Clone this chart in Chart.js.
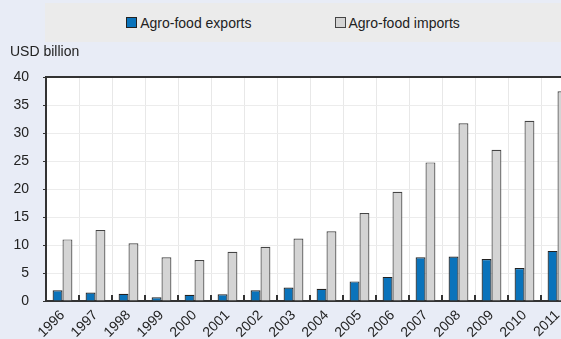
<!DOCTYPE html>
<html>
<head>
<meta charset="utf-8">
<script src="https://cdn.jsdelivr.net/npm/chart.js@4/dist/chart.umd.min.js"></script>
<style>
  html, body { margin: 0; padding: 0; background: #e8ecf6; overflow: hidden; }
  #wrap { position: relative; width: 561px; height: 339px; overflow: hidden; }
  #grafico { position: absolute; left: 0; top: 0; }
  #legenda {
    position: absolute; left: 45px; top: 3px; width: 496px; height: 39px; padding-right: 20px;
    background: #ebebeb; display: flex; justify-content: center; align-items: center; gap: 83px;
    font: 14px "Liberation Sans", Arial, sans-serif; color: #222;
  }
  #legenda span.item { display: flex; align-items: center; }
  #legenda i { display: inline-block; width: 9px; height: 9px; margin-right: 3px; box-sizing: content-box; }
</style>
</head>
<body>
<div id="wrap">
  <canvas id="grafico" width="580" height="339"></canvas>
  <div id="legenda"></div>
</div>
<script>
const anos = ["1996","1997","1998","1999","2000","2001","2002","2003","2004","2005","2006","2007","2008","2009","2010","2011"];
const exportacoes = [1.9, 1.5, 1.3, 0.65, 1.1, 1.2, 1.9, 2.4, 2.2, 3.5, 4.3, 7.8, 7.95, 7.5, 5.9, 8.95];
const importacoes = [11.0, 12.7, 10.3, 7.8, 7.3, 8.8, 9.7, 11.15, 12.45, 15.7, 19.5, 24.75, 31.75, 27.0, 32.2, 37.45];
const ticksY = [0, 5, 10, 15, 20, 25, 30, 35, 40];

const fonte = "'Liberation Sans', Arial, sans-serif";

// fundo branco da area do grafico + linha de topo + tracinhos internos do eixo x
const moldura = {
  id: 'moldura',
  beforeDraw(chart) {
    const {ctx, chartArea: a} = chart;
    ctx.save();
    ctx.fillStyle = '#ffffff';
    ctx.fillRect(a.left, a.top, a.right - a.left, a.bottom - a.top);
    ctx.restore();
  },
  afterDraw(chart) {
    const {ctx, chartArea: a, scales: {x}} = chart;
    ctx.save();
    ctx.strokeStyle = '#333';
    ctx.lineWidth = 2;
    ctx.beginPath();
    ctx.moveTo(a.left - 1, a.top);
    ctx.lineTo(a.right, a.top);
    ctx.stroke();
    for (let i = 1; i < anos.length; i++) {
      const px = Math.round((x.getPixelForTick(i - 1) + x.getPixelForTick(i)) / 2);
      ctx.beginPath();
      ctx.moveTo(px, a.bottom - 6);
      ctx.lineTo(px, a.bottom);
      ctx.stroke();
    }
    ctx.fillStyle = '#222';
    ctx.font = '14px ' + fonte;
    ctx.textBaseline = 'middle';
    ctx.fillText('USD billion', 10, 52);
    ctx.restore();
  }
};

const ctx = document.getElementById('grafico').getContext('2d');
const chart = new Chart(ctx, {
  type: 'bar',
  data: {
    labels: anos,
    datasets: [
      { label: 'Agro-food exports', data: exportacoes, backgroundColor: '#0a73bb', borderColor: '#222222', borderWidth: 1.2,
        categoryPercentage: 0.6, barPercentage: 1.0 },
      { label: 'Agro-food imports', data: importacoes, backgroundColor: '#d4d4d4', borderColor: '#444444', borderWidth: 1.2,
        categoryPercentage: 0.6, barPercentage: 1.0 }
    ]
  },
  options: {
    responsive: false,
    animation: false,
    layout: { padding: { top: 77, left: 0, right: 6, bottom: 0 } },
    plugins: { legend: { display: false }, tooltip: { enabled: false } },
    scales: {
      x: {
        grid: { color: '#e8e8e8', lineWidth: 1, offset: true, drawTicks: false },
        border: { color: '#333', width: 2 },
        ticks: { color: '#222', font: { family: fonte, size: 14 }, maxRotation: 45, minRotation: 45, autoSkip: false, padding: 6 },
        afterFit(scale) { scale.height = 38; }
      },
      y: {
        min: 0, max: 40,
        afterBuildTicks(scale) { scale.ticks = ticksY.map(v => ({value: v})); },
        grid: { color: '#ececec', lineWidth: 1, tickColor: '#333', tickLength: 3 },
        border: { color: '#333', width: 2 },
        ticks: { color: '#222', font: { family: fonte, size: 14 }, padding: 14 },
        afterFit(scale) { scale.width = 46; }
      }
    }
  },
  plugins: [moldura]
});

// legenda em HTML
const legenda = document.getElementById('legenda');
chart.data.datasets.forEach(ds => {
  const item = document.createElement('span');
  item.className = 'item';
  item.innerHTML = `<i style="background:${ds.backgroundColor};border:1px solid ${ds.borderColor}"></i>${ds.label}`;
  legenda.appendChild(item);
});
</script>
</body>
</html>
